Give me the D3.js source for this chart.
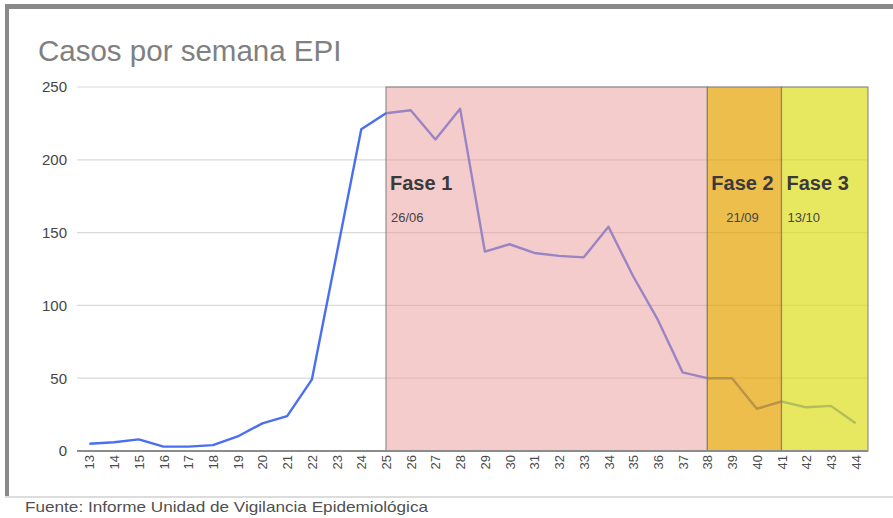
<!DOCTYPE html>
<html>
<head>
<meta charset="utf-8">
<script src="https://cdn.jsdelivr.net/npm/d3@7"></script>
<style>
  html, body { margin: 0; padding: 0; background: #fff; }
  svg { display: block; font-family: "Liberation Sans", Arial, sans-serif; }
</style>
</head>
<body>
<svg id="chart" width="893" height="518"></svg>
<script>
// ---- data ----
const semanas = ["13","14","15","16","17","18","19","20","21","22","23","24","25","26","27","28",
                 "29","30","31","32","33","34","35","36","37","38","39","40","41","42","43","44"];
const casos = [5,6,8,3,3,4,10,19,24,49,135,221,232,234,214,235,
               137,142,136,134,133,154,120,90,54,50,50,29,34,30,31,19];
const yTicks = [0,50,100,150,200,250];
const faseNombres = ["Fase 1","Fase 2","Fase 3"];
const faseFechas = ["26/06","21/09","13/10"];
const faseInicio = ["25","38","41"];
const faseFin = ["38","41",null];   // null = to the end of the plot
const titulo = "Casos por semana EPI";
const fuente = "Fuente: Informe Unidad de Vigilancia Epidemiológica";

// ---- layout ----
const svg = d3.select("#chart");
const W = 893, H = 518;
const plot = {left: 77, right: 868, top: 87, bottom: 451};

const x = d3.scalePoint().domain(semanas).range([plot.left, plot.right]).padding(0.5);
const y = d3.scaleLinear().domain([0, 250]).range([plot.bottom, plot.top]);

// frame
svg.append("rect").attr("x", 0).attr("y", 0).attr("width", W).attr("height", H).attr("fill", "#fff");
svg.append("rect").attr("x", 5).attr("y", 4).attr("width", W - 5).attr("height", 5).attr("fill", "#8a8a8a");
svg.append("rect").attr("x", 5).attr("y", 4).attr("width", 4).attr("height", 494).attr("fill", "#8a8a8a");
svg.append("rect").attr("x", 5).attr("y", 496).attr("width", W - 5).attr("height", 2).attr("fill", "#dcdcdc");

// title
svg.append("text").attr("x", 38).attr("y", 61)
  .attr("font-size", 29.5).attr("fill", "#808080").text(titulo);

// gridlines
svg.append("g").selectAll("line").data(yTicks.filter(d => d > 0)).join("line")
  .attr("x1", plot.left).attr("x2", plot.right)
  .attr("y1", d => y(d)).attr("y2", d => y(d))
  .attr("stroke", "#d9d9d9").attr("stroke-width", 1.2);

// y axis labels
const yAxis = d3.axisLeft(y).tickValues(yTicks).tickSize(0).tickPadding(10);
const gy = svg.append("g").attr("transform", `translate(${plot.left},0)`).call(yAxis);
gy.select(".domain").remove();
gy.selectAll("text").attr("font-size", 15).attr("fill", "#454545")
  .attr("font-family", "Liberation Sans, Arial, sans-serif");

// line
const line = d3.line().x((d, i) => x(semanas[i])).y(d => y(d));
svg.append("path").datum(casos).attr("d", line)
  .attr("fill", "none").attr("stroke", "#4a6ff0").attr("stroke-width", 2.4)
  .attr("stroke-linejoin", "round");

// phase overlays (semi-transparent, above the line like drawn shapes)
const faseColores = ["rgb(233,153,153)", "rgb(231,162,0)", "rgb(222,222,28)"];
const faseAlpha = [0.5, 0.7, 0.7];
faseNombres.forEach((n, i) => {
  const x0 = x(faseInicio[i]);
  const x1 = faseFin[i] ? x(faseFin[i]) : plot.right;
  svg.append("rect").attr("x", x0).attr("y", plot.top).attr("width", x1 - x0)
    .attr("height", plot.bottom - plot.top)
    .attr("fill", faseColores[i]).attr("fill-opacity", faseAlpha[i])
    .attr("stroke", "#7a7a7a").attr("stroke-opacity", 0.8).attr("stroke-width", 1.2);
});

// baseline
svg.append("line").attr("x1", plot.left).attr("x2", plot.right)
  .attr("y1", y(0)).attr("y2", y(0)).attr("stroke", "#8c8c8c").attr("stroke-width", 2);

// phase labels
faseNombres.forEach((n, i) => {
  const x0 = x(faseInicio[i]);
  const tx = x0 + (i === 2 ? 5 : 4);
  const t = svg.append("text").attr("x", tx).attr("y", 190)
    .attr("font-size", 20).attr("font-weight", "bold").attr("fill", "#3a3a3a").text(n);
  const wName = t.node().getComputedTextLength();
  const d = svg.append("text").attr("y", 222).attr("font-size", 13).attr("fill", "#444").text(faseFechas[i]);
  if (i === 1) d.attr("x", tx + wName / 2).attr("text-anchor", "middle");
  else d.attr("x", tx + 1);
});

// x axis labels (rotated)
const xAxis = d3.axisBottom(x).tickSize(0).tickPadding(0);
const gx = svg.append("g").attr("transform", `translate(0,${plot.bottom})`).call(xAxis);
gx.select(".domain").remove();
gx.selectAll("text")
  .attr("font-size", 13).attr("fill", "#4a4a4a")
  .attr("font-family", "Liberation Sans, Arial, sans-serif")
  .attr("transform", "rotate(-90)")
  .attr("text-anchor", "end")
  .attr("x", -4).attr("y", 0).attr("dy", "0.35em");

// source
svg.append("text").attr("x", 25).attr("y", 512)
  .attr("font-size", 15).attr("fill", "#505050")
  .attr("textLength", 403).attr("lengthAdjust", "spacingAndGlyphs").text(fuente);
</script>
</body>
</html>
